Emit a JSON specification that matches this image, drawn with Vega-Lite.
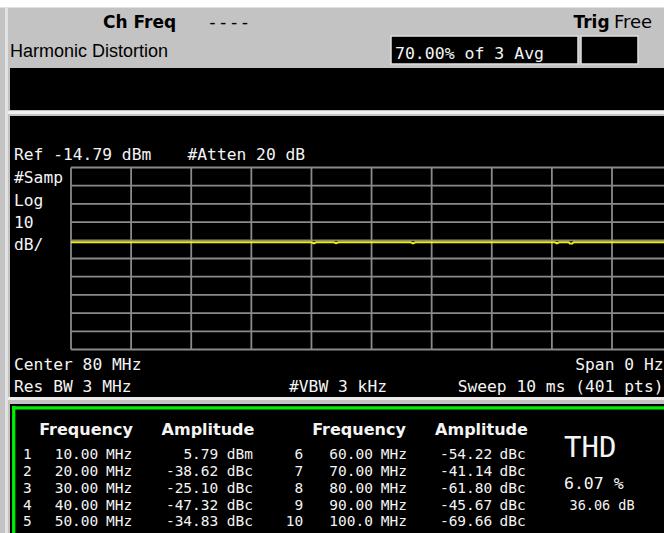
{
  "$schema": "https://vega.github.io/schema/vega-lite/v6.json",
  "width": 664,
  "height": 533,
  "autosize": "none",
  "padding": 0,
  "background": "#c3c3c3",
  "config": {
    "view": {"stroke": null},
    "axis": {"disable": true},
    "locale": {"number": {"decimal": ".", "thousands": ",", "grouping": [3], "currency": ["$", ""], "minus": "-"}},
    "text": {"font": "DejaVu Sans Mono", "fontSize": 16.3, "fill": "#f4f4f4", "baseline": "alphabetic", "align": "left"}
  },
  "datasets": {
    "harmonics": [
      {"n": 1, "freq_mhz": 10, "amp": 5.79, "unit": "dBm"},
      {"n": 2, "freq_mhz": 20, "amp": -38.62, "unit": "dBc"},
      {"n": 3, "freq_mhz": 30, "amp": -25.10, "unit": "dBc"},
      {"n": 4, "freq_mhz": 40, "amp": -47.32, "unit": "dBc"},
      {"n": 5, "freq_mhz": 50, "amp": -34.83, "unit": "dBc"},
      {"n": 6, "freq_mhz": 60, "amp": -54.22, "unit": "dBc"},
      {"n": 7, "freq_mhz": 70, "amp": -41.14, "unit": "dBc"},
      {"n": 8, "freq_mhz": 80, "amp": -61.80, "unit": "dBc"},
      {"n": 9, "freq_mhz": 90, "amp": -45.67, "unit": "dBc"},
      {"n": 10, "freq_mhz": 100, "amp": -69.66, "unit": "dBc"}
    ],
    "trace": [
      {"time_ms": 0, "level_dbm": -55.9},
      {"time_ms": 1, "level_dbm": -55.9},
      {"time_ms": 2, "level_dbm": -55.9},
      {"time_ms": 3, "level_dbm": -55.9},
      {"time_ms": 4.0, "level_dbm": -55.9},
      {"time_ms": 4.04, "level_dbm": -56.5},
      {"time_ms": 4.08, "level_dbm": -55.9},
      {"time_ms": 4.37, "level_dbm": -55.9},
      {"time_ms": 4.41, "level_dbm": -56.4},
      {"time_ms": 4.45, "level_dbm": -55.9},
      {"time_ms": 5.65, "level_dbm": -55.9},
      {"time_ms": 5.69, "level_dbm": -56.5},
      {"time_ms": 5.73, "level_dbm": -55.9},
      {"time_ms": 7, "level_dbm": -55.9},
      {"time_ms": 8.05, "level_dbm": -55.9},
      {"time_ms": 8.085, "level_dbm": -56.5},
      {"time_ms": 8.12, "level_dbm": -55.9},
      {"time_ms": 8.28, "level_dbm": -55.9},
      {"time_ms": 8.3, "level_dbm": -56.6},
      {"time_ms": 8.34, "level_dbm": -56.6},
      {"time_ms": 8.36, "level_dbm": -55.9},
      {"time_ms": 9, "level_dbm": -55.9},
      {"time_ms": 10, "level_dbm": -55.9}
    ],
    "vdiv": [
      {"time_ms": 0}, {"time_ms": 1}, {"time_ms": 2}, {"time_ms": 3}, {"time_ms": 4},
      {"time_ms": 5}, {"time_ms": 6}, {"time_ms": 7}, {"time_ms": 8}, {"time_ms": 9}, {"time_ms": 10}
    ],
    "hdiv": [
      {"level_dbm": -14.79}, {"level_dbm": -24.79}, {"level_dbm": -34.79}, {"level_dbm": -44.79},
      {"level_dbm": -54.79}, {"level_dbm": -64.79}, {"level_dbm": -74.79}, {"level_dbm": -84.79},
      {"level_dbm": -94.79}, {"level_dbm": -104.79}, {"level_dbm": -114.79}
    ]
  },
  "layer": [
    {
      "layer": [
        {
          "data": {"values": [{}]},
          "layer": [
            {"mark": {"type": "rect", "fill": "#ffffff"}, "encoding": {"x": {"datum": -1.1812}, "x2": {"datum": 9.8652}, "y": {"datum": 77.243}, "y2": {"datum": 73.122}}},
            {"mark": {"type": "rect", "fill": "#e2e2e2"}, "encoding": {"x": {"datum": -1.098}, "x2": {"datum": -1.0481}, "y": {"datum": 73.122}, "y2": {"datum": -215.614}}},
            {"mark": {"type": "rect", "fill": "#000000"}, "encoding": {"x": {"datum": -1.0148}, "x2": {"datum": 9.8652}, "y": {"datum": 39.88}, "y2": {"datum": 16.803}}},
            {"mark": {"type": "rect", "fill": "#f0f0f0"}, "encoding": {"x": {"datum": -1.0481}, "x2": {"datum": 9.8652}, "y": {"datum": 16.254}, "y2": {"datum": 14.606}}},
            {"mark": {"type": "rect", "fill": "#000000"}, "encoding": {"x": {"datum": -1.0148}, "x2": {"datum": 9.8652}, "y": {"datum": 13.507}, "y2": {"datum": -140.889}}},
            {"mark": {"type": "rect", "fill": "#ececec"}, "encoding": {"x": {"datum": -1.0481}, "x2": {"datum": 9.8652}, "y": {"datum": -140.889}, "y2": {"datum": -142.537}}},
            {"mark": {"type": "rect", "fill": "#000000"}, "encoding": {"x": {"datum": -1.0148}, "x2": {"datum": 9.8652}, "y": {"datum": -144.735}, "y2": {"datum": -215.614}}},
            {"mark": {"type": "rule", "stroke": "#00ee00", "strokeWidth": 3.3}, "encoding": {"x": {"datum": -0.9815}, "x2": {"datum": 9.8652}, "y": {"datum": -146.823}}},
            {"mark": {"type": "rule", "stroke": "#00ee00", "strokeWidth": 3.3}, "encoding": {"x": {"datum": -0.9532}, "y": {"datum": -145.834}, "y2": {"datum": -215.614}}},
            {"mark": {"type": "rect", "fill": "#000000", "stroke": "#dedede", "strokeWidth": 1.5}, "encoding": {"x": {"datum": 5.3236}, "x2": {"datum": 8.4345}, "y": {"datum": 57.463}, "y2": {"datum": 42.078}}},
            {"mark": {"type": "rect", "fill": "#000000", "stroke": "#dedede", "strokeWidth": 1.5}, "encoding": {"x": {"datum": 8.4844}, "x2": {"datum": 9.4327}, "y": {"datum": 57.463}, "y2": {"datum": 42.078}}},
            {"mark": {"type": "text", "text": "Ch Freq", "font": "DejaVu Sans", "fontWeight": "bold", "fontSize": 17, "fill": "#000000"}, "encoding": {"x": {"datum": 0.5324}, "y": {"datum": 61.858}}},
            {"mark": {"type": "text", "text": "----", "fontSize": 18, "fill": "#000000"}, "encoding": {"x": {"datum": 2.2625}, "y": {"datum": 61.858}}},
            {"mark": {"type": "text", "text": "Trig", "font": "DejaVu Sans", "fontWeight": "bold", "fontSize": 17, "fill": "#000000"}, "encoding": {"x": {"datum": 8.3596}, "y": {"datum": 61.858}}},
            {"mark": {"type": "text", "text": "Free", "font": "DejaVu Sans", "fontSize": 18, "fill": "#000000"}, "encoding": {"x": {"datum": 9.0334}, "y": {"datum": 61.858}}},
            {"mark": {"type": "text", "text": "Harmonic Distortion", "font": "Liberation Sans", "fontSize": 18, "fill": "#000000"}, "encoding": {"x": {"datum": -1.0148}, "y": {"datum": 45.76}}},
            {"mark": {"type": "text", "text": "70.00% of 3 Avg", "fontSize": 16.5}, "encoding": {"x": {"datum": 5.3901}, "y": {"datum": 44.825}}},
            {"mark": {"type": "text", "text": "Ref -14.79 dBm"}, "encoding": {"x": {"datum": -0.9483}, "y": {"datum": -10.669}}},
            {"mark": {"type": "text", "text": "#Atten 20 dB"}, "encoding": {"x": {"datum": 1.9381}, "y": {"datum": -10.669}}},
            {"mark": {"type": "text", "text": "#Samp"}, "encoding": {"x": {"datum": -0.9483}, "y": {"datum": -23.581}}},
            {"mark": {"type": "text", "text": "Log"}, "encoding": {"x": {"datum": -0.9483}, "y": {"datum": -35.779}}},
            {"mark": {"type": "text", "text": "10"}, "encoding": {"x": {"datum": -0.9483}, "y": {"datum": -47.977}}},
            {"mark": {"type": "text", "text": "dB/"}, "encoding": {"x": {"datum": -0.9483}, "y": {"datum": -60.175}}},
            {"mark": {"type": "text", "text": "Center 80 MHz"}, "encoding": {"x": {"datum": -0.9483}, "y": {"datum": -125.779}}},
            {"mark": {"type": "text", "text": "Span 0 Hz", "align": "right"}, "encoding": {"x": {"datum": 9.8568}, "y": {"datum": -125.779}}},
            {"mark": {"type": "text", "text": "Res BW 3 MHz"}, "encoding": {"x": {"datum": -0.9483}, "y": {"datum": -138.416}}},
            {"mark": {"type": "text", "text": "#VBW 3 kHz"}, "encoding": {"x": {"datum": 3.6266}, "y": {"datum": -138.416}}},
            {"mark": {"type": "text", "text": "Sweep 10 ms (401 pts)", "align": "right"}, "encoding": {"x": {"datum": 9.8568}, "y": {"datum": -138.416}}},
            {"mark": {"type": "text", "text": "Frequency", "font": "DejaVu Sans", "fontWeight": "bold", "fontSize": 16, "align": "center"}, "encoding": {"x": {"datum": 0.2495}, "y": {"datum": -161.77}}},
            {"mark": {"type": "text", "text": "Amplitude", "font": "DejaVu Sans", "fontWeight": "bold", "fontSize": 16, "align": "center"}, "encoding": {"x": {"datum": 2.2791}, "y": {"datum": -161.77}}},
            {"mark": {"type": "text", "text": "Frequency", "font": "DejaVu Sans", "fontWeight": "bold", "fontSize": 16, "align": "center"}, "encoding": {"x": {"datum": 4.7912}, "y": {"datum": -161.77}}},
            {"mark": {"type": "text", "text": "Amplitude", "font": "DejaVu Sans", "fontWeight": "bold", "fontSize": 16, "align": "center"}, "encoding": {"x": {"datum": 6.8291}, "y": {"datum": -161.77}}},
            {"mark": {"type": "text", "text": "THD", "fontSize": 29}, "encoding": {"x": {"datum": 8.2016}, "y": {"datum": -174.02}}},
            {"mark": {"type": "text", "text": "6.07 %", "fontSize": 16.5}, "encoding": {"x": {"datum": 8.2016}, "y": {"datum": -191.6}}},
            {"mark": {"type": "text", "text": "36.06 dB", "fontSize": 13.5}, "encoding": {"x": {"datum": 8.2931}, "y": {"datum": -202.98}}}
          ]
        },
        {
          "data": {"name": "vdiv"},
          "mark": {"type": "rule", "stroke": "#8a8a8a", "strokeWidth": 1.8, "clip": true},
          "encoding": {"x": {"field": "time_ms", "type": "quantitative"}, "y": {"datum": -14.79}, "y2": {"datum": -114.79}}
        },
        {
          "data": {"name": "hdiv"},
          "mark": {"type": "rule", "stroke": "#8a8a8a", "strokeWidth": 1.8, "clip": true},
          "encoding": {"y": {"field": "level_dbm", "type": "quantitative"}, "x": {"datum": 0}, "x2": {"datum": 9.8652}}
        },
        {
          "data": {"name": "trace"},
          "mark": {"type": "line", "color": "#f0f000", "strokeWidth": 2, "clip": true},
          "encoding": {
            "x": {"field": "time_ms", "type": "quantitative", "scale": {"domain": [-1.1812, 9.8652], "nice": false, "zero": false}, "axis": null},
            "y": {"field": "level_dbm", "type": "quantitative", "scale": {"domain": [-215.614, 77.243], "nice": false, "zero": false}, "axis": null}
          }
        }
      ]
    },
    {
      "data": {"name": "harmonics"},
      "transform": [{"filter": "datum.n <= 5"}],
      "encoding": {"y": {"field": "n", "type": "quantitative", "scale": {"domain": [-26.421, 5.4], "reverse": true, "nice": false, "zero": false}, "axis": null}},
      "layer": [
        {"mark": {"type": "text", "fontSize": 14.5}, "encoding": {"x": {"datum": -0.7985}, "text": {"field": "n", "type": "nominal"}}},
        {"mark": {"type": "text", "fontSize": 14.5, "align": "right"}, "encoding": {"x": {"datum": 0.4542}, "text": {"field": "freq_mhz", "type": "quantitative", "format": ".4r"}}},
        {"mark": {"type": "text", "fontSize": 14.5, "text": "MHz"}, "encoding": {"x": {"datum": 0.5823}}},
        {"mark": {"type": "text", "fontSize": 14.5, "align": "right"}, "encoding": {"x": {"datum": 2.4505}, "text": {"field": "amp", "type": "quantitative", "format": ".2f"}}},
        {"mark": {"type": "text", "fontSize": 14.5}, "encoding": {"x": {"datum": 2.5902}, "text": {"field": "unit", "type": "nominal"}}}
      ]
    },
    {
      "data": {"name": "harmonics"},
      "transform": [{"filter": "datum.n >= 6"}],
      "encoding": {"y": {"field": "n", "type": "quantitative", "scale": {"domain": [-21.421, 10.4], "reverse": true, "nice": false, "zero": false}, "axis": null}},
      "layer": [
        {"mark": {"type": "text", "fontSize": 14.5, "align": "right"}, "encoding": {"x": {"datum": 3.8645}, "text": {"field": "n", "type": "nominal"}}},
        {"mark": {"type": "text", "fontSize": 14.5, "align": "right"}, "encoding": {"x": {"datum": 5.0241}, "text": {"field": "freq_mhz", "type": "quantitative", "format": ".4r"}}},
        {"mark": {"type": "text", "fontSize": 14.5, "text": "MHz"}, "encoding": {"x": {"datum": 5.1522}}},
        {"mark": {"type": "text", "fontSize": 14.5, "align": "right"}, "encoding": {"x": {"datum": 7.0088}, "text": {"field": "amp", "type": "quantitative", "format": ".2f"}}},
        {"mark": {"type": "text", "fontSize": 14.5}, "encoding": {"x": {"datum": 7.1285}, "text": {"field": "unit", "type": "nominal"}}}
      ]
    }
  ],
  "resolve": {"scale": {"y": "independent"}}
}
